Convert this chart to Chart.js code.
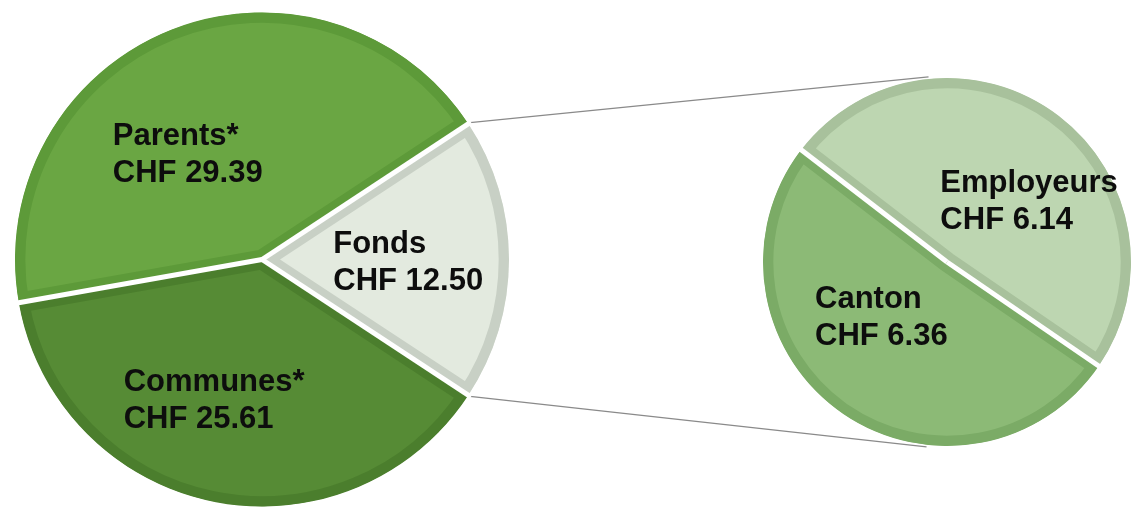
<!DOCTYPE html>
<html>
<head>
<meta charset="utf-8">
<script src="https://cdn.jsdelivr.net/npm/chart.js@4.4.1/dist/chart.umd.min.js"></script>
<style>
    html, body { margin: 0; padding: 0; background: #fff; }
    #wrap { position: relative; width: 1135px; height: 507px; overflow: hidden; }
    #links { position: absolute; left: 0; top: 0; }
    #mainPie { position: absolute; left: 0; top: 0; }
    #subPie { position: absolute; left: 740px; top: 0; }
</style>
</head>
<body>
<div id="wrap">
    <canvas id="links" width="1135" height="507"></canvas>
    <canvas id="mainPie" width="524" height="507"></canvas>
    <canvas id="subPie" width="395" height="507"></canvas>
</div>
<script>
// main pie: Fonds is split out into the small pie on the right
const mainLabels = ["Fonds", "Communes*", "Parents*"];
const mainValues = [12.50, 25.61, 29.39];

const subLabels = ["Employeurs", "Canton"];
const subValues = [6.14, 6.36];

const SUB_LEFT = 740;
const FONT_SIZE = 31;

// white gaps between slices, drawn along each slice edge
const gapPlugin = {
    id: "sliceGaps",
    afterDatasetsDraw(chart) {
        const ctx = chart.ctx;
        ctx.save();
        ctx.strokeStyle = "#fff";
        ctx.lineWidth = 5;
        chart.getDatasetMeta(0).data.forEach(arc => {
            const p = arc.getProps(["x", "y", "startAngle", "outerRadius"], true);
            const r = p.outerRadius + 3;
            ctx.beginPath();
            ctx.moveTo(p.x, p.y);
            ctx.lineTo(p.x + Math.cos(p.startAngle) * r, p.y + Math.sin(p.startAngle) * r);
            ctx.stroke();
        });
        ctx.restore();
    }
};

const labelPlugin = {
    id: "sliceLabels",
    afterDatasetsDraw(chart, args, opts) {
        const ctx = chart.ctx;
        const meta = chart.getDatasetMeta(0);
        const values = chart.data.datasets[0].data;
        const cap = FONT_SIZE * 0.716;
        ctx.save();
        ctx.font = "bold " + FONT_SIZE + "px 'Liberation Sans', Arial, sans-serif";
        ctx.fillStyle = "#0d0d0d";
        ctx.textAlign = "left";
        ctx.textBaseline = "alphabetic";
        meta.data.forEach((arc, i) => {
            const p = arc.getProps(["x", "y", "startAngle", "endAngle", "outerRadius"], true);
            const mid = (p.startAngle + p.endAngle) / 2;
            const place = opts.place[i];
            const r = p.outerRadius * place.f;
            const cx = p.x + Math.cos(mid) * r + place.dx;
            const cy = p.y + Math.sin(mid) * r + place.dy;
            const lines = [chart.data.labels[i], "CHF " + values[i].toFixed(2)];
            const w = Math.max(...lines.map(l => ctx.measureText(l).width));
            const left = cx - w / 2;
            const lh = opts.lineHeight;
            ctx.fillText(lines[0], left, cy - lh / 2 + cap / 2);
            ctx.fillText(lines[1], left, cy + lh / 2 + cap / 2);
        });
        ctx.restore();
    }
};

function baseOptions(rotation, radius, padding, place) {
    return {
        responsive: false,
        animation: false,
        events: [],
        rotation: rotation,
        radius: radius,
        layout: { padding: padding },
        plugins: {
            legend: { display: false },
            tooltip: { enabled: false },
            sliceLabels: { place: place, lineHeight: 37 }
        }
    };
}

const mainTotal = mainValues.reduce((a, b) => a + b, 0);
const fondsSweep = mainValues[0] / mainTotal * 360;

const mainChart = new Chart(document.getElementById("mainPie"), {
    type: "pie",
    data: {
        labels: mainLabels,
        datasets: [{
            data: mainValues,
            backgroundColor: ["#e3eadf", "#568b35", "#6aa643"],
            borderColor: ["#c8d0c5", "#4b7e2d", "#5d9a39"],
            borderWidth: 10,
            borderAlign: "inner",
            borderJoinStyle: "miter",
            clip: false
        }]
    },
    options: baseOptions(90 - fondsSweep / 2, 247, { top: 12 }, [
        { f: 0.6, dx: -2, dy: 1 },
        { f: 0.56, dx: -20, dy: 3 },
        { f: 0.55, dx: -24, dy: 19 }
    ]),
    plugins: [gapPlugin, labelPlugin]
});

const subTotal = subValues.reduce((a, b) => a + b, 0);
const empSweep = subValues[0] / subTotal * 360;

const subChart = new Chart(document.getElementById("subPie"), {
    type: "pie",
    data: {
        labels: subLabels,
        datasets: [{
            data: subValues,
            backgroundColor: ["#bdd6b1", "#8cba76"],
            borderColor: ["#a8c19c", "#7bab66"],
            borderWidth: 10,
            borderAlign: "inner",
            borderJoinStyle: "miter",
            clip: false
        }]
    },
    options: baseOptions(36 - empSweep / 2, 184, { top: 17, left: 19 }, [
        { f: 0.5, dx: 28, dy: 12 },
        { f: 0.45, dx: -17, dy: -14 }
    ]),
    plugins: [gapPlugin, labelPlugin]
});

// connector lines: from the outer corners of Fonds, tangent to the small pie
function drawLinks() {
    const ctx = document.getElementById("links").getContext("2d");
    const fonds = mainChart.getDatasetMeta(0).data[0];
    const fp = fonds.getProps(["x", "y", "startAngle", "endAngle", "outerRadius"], true);

    const sub = subChart.getDatasetMeta(0).data[0];
    const sp = sub.getProps(["x", "y", "outerRadius"], true);
    const cx = sp.x + SUB_LEFT;
    const cy = sp.y;
    const R = sp.outerRadius + 2;

    ctx.strokeStyle = "#8a8a8a";
    ctx.lineWidth = 1.4;

    [[fp.startAngle, -1], [fp.endAngle, 1]].forEach(([ang, side]) => {
        const px = fp.x + Math.cos(ang) * (fp.outerRadius + 2);
        const py = fp.y + Math.sin(ang) * (fp.outerRadius + 2);
        const dx = cx - px, dy = cy - py;
        const d = Math.hypot(dx, dy);
        const theta = Math.atan2(dy, dx) + side * Math.asin(R / d);
        const len = Math.sqrt(d * d - R * R);
        ctx.beginPath();
        ctx.moveTo(px, py);
        ctx.lineTo(px + Math.cos(theta) * len, py + Math.sin(theta) * len);
        ctx.stroke();
    });
}
drawLinks();
</script>
</body>
</html>
